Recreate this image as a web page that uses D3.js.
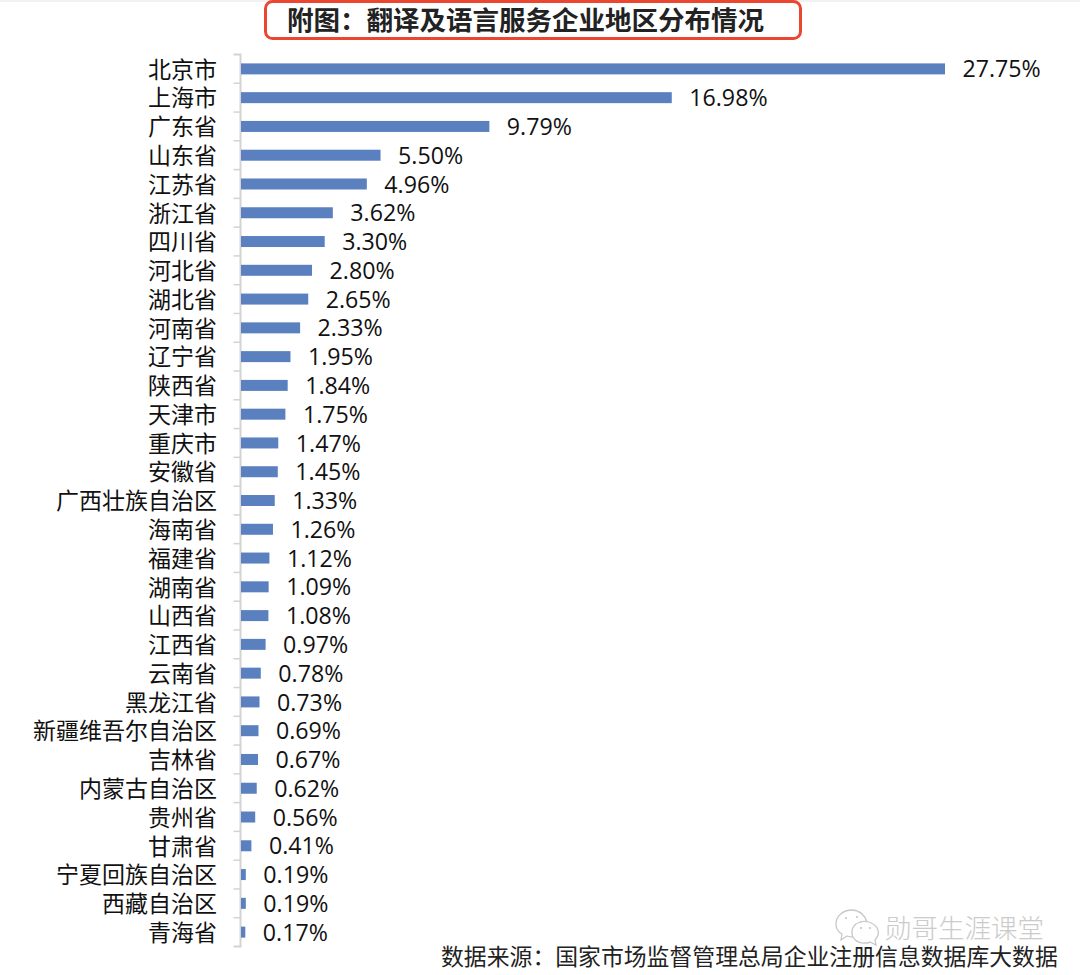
<!DOCTYPE html>
<html lang="zh-CN"><head><meta charset="utf-8">
<script src="https://cdn.jsdelivr.net/npm/d3@7"></script>
<style>html,body{margin:0;padding:0;background:#fff}svg{display:block}text{font-family:"Noto Sans CJK SC","Noto Sans",sans-serif}</style>
</head><body><svg id="c" width="1080" height="975"></svg>
<script>
const categories=["北京市","上海市","广东省","山东省","江苏省","浙江省","四川省","河北省","湖北省","河南省","辽宁省","陕西省","天津市","重庆市","安徽省","广西壮族自治区","海南省","福建省","湖南省","山西省","江西省","云南省","黑龙江省","新疆维吾尔自治区","吉林省","内蒙古自治区","贵州省","甘肃省","宁夏回族自治区","西藏自治区","青海省"];
const shares=[27.75,16.98,9.79,5.50,4.96,3.62,3.30,2.80,2.65,2.33,1.95,1.84,1.75,1.47,1.45,1.33,1.26,1.12,1.09,1.08,0.97,0.78,0.73,0.69,0.67,0.62,0.56,0.41,0.19,0.19,0.17];
const titleText="附图\uFF1A翻译及语言服务企业地区分布情况";
const sourceText="数据来源\uFF1A国家市场监督管理总局企业注册信息数据库大数据";
const watermark="勋哥生涯课堂";

const svg=d3.select("#c");
const x=d3.scaleLinear().domain([0,27.75]).range([241,945]);
const y=d3.scaleBand().domain(categories).range([54.5,946.5]);

svg.append("rect").attr("x",0).attr("y",0).attr("width",1080).attr("height",2).attr("fill","#f2f2f2");
// title box
svg.append("rect").attr("x",265.5).attr("y",1.5).attr("width",535).attr("height",37).attr("rx",7)
 .attr("fill","#fff").attr("stroke","#ea4630").attr("stroke-width",3);
svg.append("text").attr("x",287).attr("y",30).attr("font-size",26.5).attr("font-weight",700)
 .attr("fill","#222").text(titleText);

// axis
const axis=d3.axisLeft(y).tickSize(0).tickPadding(0).tickFormat(d=>d);
const g=svg.append("g").attr("transform","translate(240.5,0)").call(axis);
g.select(".domain").attr("stroke","#d3d3d3").attr("stroke-width",2).attr("d","M-7,54.5H0V946.5H-7");
g.selectAll(".tick text").attr("x",-23.5).attr("font-size",23).attr("fill","#111").attr("dy","0.38em");
// separators between categories
const edges=categories.map(c=>y(c)).slice(1);
svg.append("g").selectAll("line").data(edges).join("line")
 .attr("x1",233.5).attr("x2",240).attr("y1",d=>d).attr("y2",d=>d)
 .attr("stroke","#d3d3d3").attr("stroke-width",1.5);

const rows=categories.map((c,i)=>({c,v:shares[i]}));
svg.append("g").selectAll("rect").data(rows).join("rect")
 .attr("x",x(0)).attr("y",d=>y(d.c)+y.bandwidth()/2-5.5)
 .attr("width",d=>x(d.v)-x(0)).attr("height",11).attr("fill","#5b80bf");
svg.append("g").selectAll("text").data(rows).join("text")
 .attr("x",d=>x(d.v)+17.5).attr("y",d=>y(d.c)+y.bandwidth()/2).attr("dy","0.37em")
 .attr("font-size",23.2).attr("fill","#111").style("font-family","'Open Sans','Noto Sans',sans-serif")
 .text(d=>d.v.toFixed(2)+"%");

// source
svg.append("text").attr("x",441).attr("y",965).attr("font-size",22.85).attr("fill","#222").text(sourceText);
// watermark
svg.append("text").attr("x",885).attr("y",938).attr("font-size",26.5).attr("font-weight",300).attr("fill","#c6c6c6").attr("opacity",.9).text(watermark);
const w=svg.append("g").attr("fill","#fff").attr("stroke","#c8c8c8").attr("stroke-width",1.3);
w.append("path").attr("d","M852,910c-9,0-16,6-16,14c0,4,2,8,6,10l-1,6l6,-4c2,1,4,1,6,1c-1,-7,4,-14,14,-15c-2,-7,-8,-12,-15,-12z");
w.append("path").attr("d","M860,922c-6,2-9,7-8,12c1,6,7,10,14,9c2,0,3,0,4,-1l6,3l-1,-5c3,-3,4,-6,3,-10c-2,-6,-10,-10,-18,-8z");
[[846,918],[857,917],[861,928],[870,928]].forEach(p=>w.append("circle").attr("cx",p[0]).attr("cy",p[1]).attr("r",.9).attr("fill","#bbb").attr("stroke","none"));
</script></body></html>
